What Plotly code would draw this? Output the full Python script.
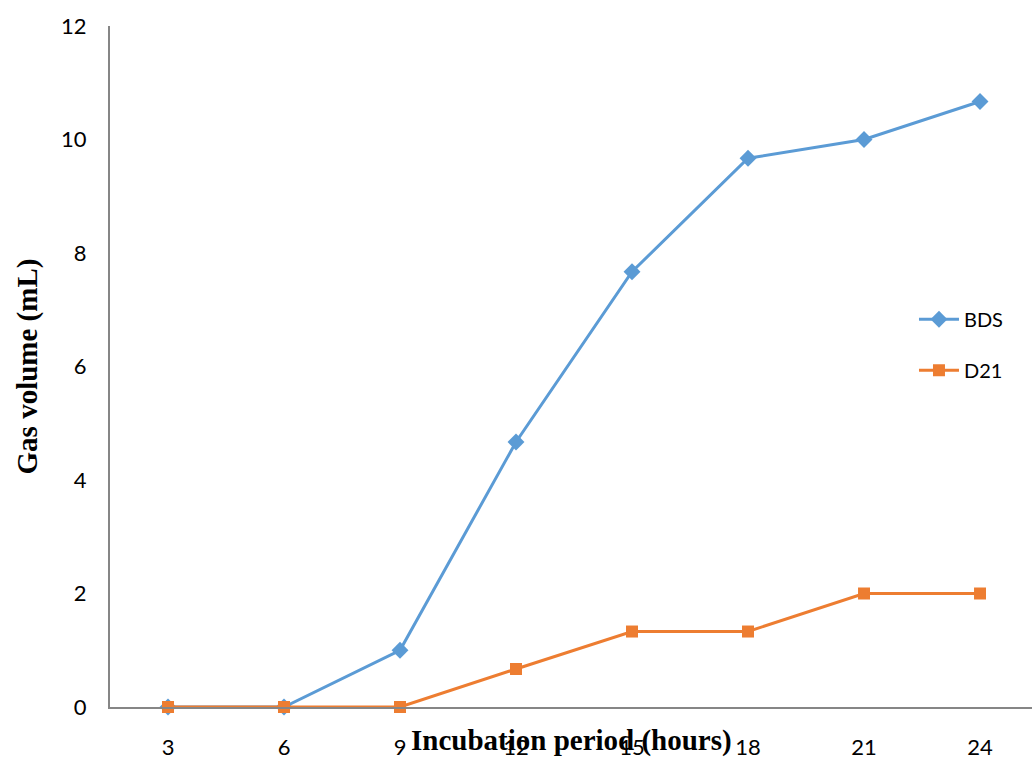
import plotly.graph_objects as go

hours = ["3", "6", "9", "12", "15", "18", "21", "24"]
bds = [0, 0, 1, 4.67, 7.67, 9.67, 10, 10.67]
d21 = [0, 0, 0, 0.67, 1.33, 1.33, 2, 2]
y_ticks = [0, 2, 4, 6, 8, 10, 12]

BLUE = "#5B9BD5"
ORANGE = "#ED7D31"
AXIS = "#868686"
TICK_FONT = dict(family="Lato, Open Sans, sans-serif", size=22, color="#000000")
TITLE_FONT = dict(family="Liberation Serif, Times New Roman, serif", size=29, color="#000000")

fig = go.Figure()
fig.add_trace(go.Scatter(
    x=list(range(len(hours))), y=bds, name="BDS", mode="lines+markers",
    legendgroup="bds", cliponaxis=False,
    line=dict(color=BLUE, width=3),
    marker=dict(symbol="diamond", size=13, color=BLUE),
))
fig.add_trace(go.Scatter(
    x=list(range(len(hours))), y=d21, name="D21", mode="lines+markers",
    legendgroup="d21", cliponaxis=False,
    line=dict(color=ORANGE, width=3),
    marker=dict(symbol="square", size=12, color=ORANGE),
))

fig.update_layout(
    width=1032, height=761,
    margin=dict(l=110, r=0, t=26, b=54),
    plot_bgcolor="white", paper_bgcolor="white",
    showlegend=True,
    legend=dict(
        x=0.872, y=0.532, xanchor="left", yanchor="middle",
        font=dict(family="Lato, Open Sans, sans-serif", size=20, color="#000000"),
        bgcolor="rgba(0,0,0,0)", traceorder="grouped", tracegroupgap=22,
        itemwidth=40,
    ),
    xaxis=dict(
        range=[-0.5, 7.448], tickmode="array",
        tickvals=list(range(len(hours))), ticktext=hours,
        showgrid=False, zeroline=False, showline=True,
        linecolor=AXIS, linewidth=2, ticks="", tickfont=TICK_FONT,
        ticklabelstandoff=20,
    ),
    yaxis=dict(
        range=[0, 12], tickmode="array", tickvals=y_ticks,
        showgrid=False, zeroline=False, showline=True,
        linecolor=AXIS, linewidth=2, ticks="", tickfont=TICK_FONT,
        ticklabelstandoff=17,
    ),
    annotations=[
        dict(text="<b>Incubation period (hours)</b>", xref="paper", yref="paper",
             x=0.50, y=-0.049, xanchor="center", yanchor="middle",
             showarrow=False, font=TITLE_FONT),
        dict(text="<b>Gas volume (mL)</b>", xref="paper", yref="paper",
             x=-0.089, y=0.50, xanchor="center", yanchor="middle",
             textangle=-90, showarrow=False, font=TITLE_FONT),
    ],
)

fig.write_html("out.html")
